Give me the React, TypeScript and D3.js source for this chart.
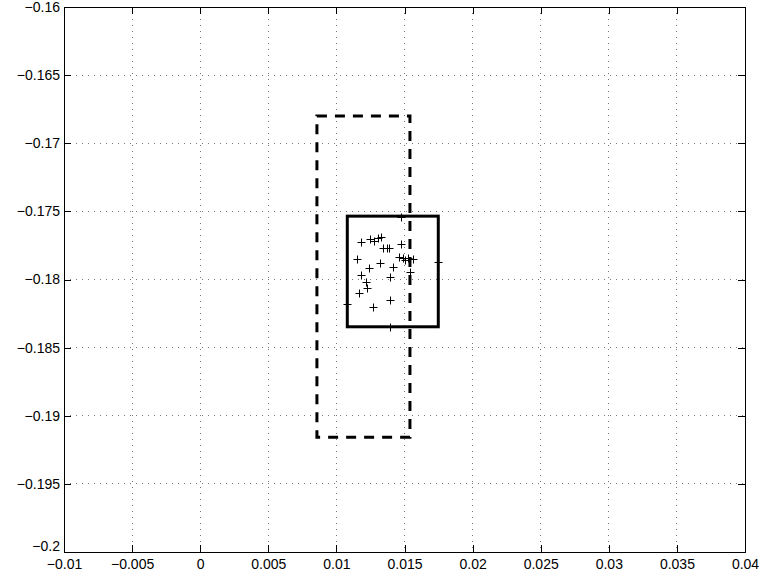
import { useEffect, useRef } from 'react'
import * as d3 from 'd3'

const xTicks = [-0.01, -0.005, 0, 0.005, 0.01, 0.015, 0.02, 0.025, 0.03, 0.035, 0.04]
const xTickLabels = ['−0.01', '−0.005', '0', '0.005', '0.01', '0.015', '0.02', '0.025', '0.03', '0.035', '0.04']
const yTicks = [-0.16, -0.165, -0.17, -0.175, -0.18, -0.185, -0.19, -0.195, -0.2]
const yTickLabels = ['−0.16', '−0.165', '−0.17', '−0.175', '−0.18', '−0.185', '−0.19', '−0.195', '−0.2']

// sample points (x, y)
const pointsX = [
  0.01472, 0.01181, 0.01247, 0.01276, 0.01308, 0.01325, 0.01344, 0.01369, 0.01388, 0.01471,
  0.01149, 0.0132, 0.01413, 0.01242, 0.01462, 0.01487, 0.01504, 0.01528, 0.01565, 0.0154,
  0.01748, 0.01394, 0.01178, 0.01217, 0.01222, 0.01168, 0.01394, 0.01076, 0.01271, 0.01394,
]
const pointsY = [
  -0.17539, -0.17725, -0.17703, -0.17717, -0.17698, -0.1769, -0.17767, -0.17767, -0.17772, -0.17736,
  -0.17852, -0.17881, -0.17906, -0.17919, -0.17837, -0.17844, -0.17857, -0.17844, -0.17852, -0.17947,
  -0.17874, -0.17978, -0.17969, -0.18016, -0.18065, -0.18101, -0.1815, -0.1818, -0.18205, -0.18346,
]

// bounding boxes: [xmin, xmax, ymin, ymax]
const outerBox = [0.00857, 0.0154, -0.19157, -0.168]
const innerBox = [0.0108, 0.01748, -0.18347, -0.17535]

export default function App() {
  const chartRef = useRef<SVGSVGElement | null>(null)

  useEffect(() => {
    const svg = d3.select(chartRef.current)
    svg.selectAll('*').remove()

    const margin = { top: 7, right: 15, bottom: 30, left: 64 }
    const width = 760 - margin.left - margin.right
    const height = 582 - margin.top - margin.bottom

    const g = svg.append('g').attr('transform', `translate(${margin.left},${margin.top})`)

    const x = d3.scaleLinear().domain([-0.01, 0.04]).range([0, width])
    const y = d3.scaleLinear().domain([-0.2, -0.16]).range([height, 0])

    // dotted grid
    g.append('g')
      .selectAll('line')
      .data(xTicks.slice(1, -1))
      .enter().append('line')
      .attr('x1', d => x(d)).attr('x2', d => x(d))
      .attr('y1', 0).attr('y2', height)
      .attr('stroke', '#777').attr('stroke-width', 1).attr('stroke-dasharray', '1,5')
      .attr('shape-rendering', 'crispEdges')
    g.append('g')
      .selectAll('line')
      .data(yTicks.slice(1, -1))
      .enter().append('line')
      .attr('y1', d => y(d)).attr('y2', d => y(d))
      .attr('x1', 0).attr('x2', width)
      .attr('stroke', '#777').attr('stroke-width', 1).attr('stroke-dasharray', '1,5')
      .attr('shape-rendering', 'crispEdges')

    const font = 'Liberation Sans, Arial, Helvetica, sans-serif'

    const xAxis = d3.axisBottom(x).tickValues(xTicks)
      .tickFormat((_, i) => xTickLabels[i])
      .tickSizeInner(-7).tickSizeOuter(0).tickPadding(7)
    const yAxis = d3.axisLeft(y).tickValues(yTicks)
      .tickFormat((_, i) => yTickLabels[i])
      .tickSizeInner(-7).tickSizeOuter(0).tickPadding(4)

    const gx = g.append('g').attr('transform', `translate(0,${height})`).call(xAxis)
    const gy = g.append('g').call(yAxis)
    // mirrored ticks on top and right
    const gxt = g.append('g').call(d3.axisTop(x).tickValues(xTicks).tickFormat(() => '').tickSizeInner(-7).tickSizeOuter(0))
    const gyr = g.append('g').attr('transform', `translate(${width},0)`)
      .call(d3.axisRight(y).tickValues(yTicks).tickFormat(() => '').tickSizeInner(-7).tickSizeOuter(0))

    ;[gx, gy, gxt, gyr].forEach(a => {
      a.select('.domain').remove()
      a.selectAll('line').attr('stroke', '#000').attr('shape-rendering', 'crispEdges')
      a.selectAll('text').attr('fill', '#000').style('font-family', font).style('font-size', '14px')
    })
    // lift the bottom y label clear of the x labels
    gy.selectAll<SVGTextElement, number>('text')
      .filter(d => d === -0.2)
      .attr('y', -6)

    g.append('rect')
      .attr('x', 0).attr('y', 0).attr('width', width).attr('height', height)
      .attr('fill', 'none').attr('stroke', '#000').attr('stroke-width', 1)
      .attr('shape-rendering', 'crispEdges')

    // dashed box
    g.append('rect')
      .attr('x', x(outerBox[0])).attr('y', y(outerBox[3]))
      .attr('width', x(outerBox[1]) - x(outerBox[0]))
      .attr('height', y(outerBox[2]) - y(outerBox[3]))
      .attr('fill', 'none').attr('stroke', '#000').attr('stroke-width', 3)
      .attr('stroke-dasharray', '10,8')

    // solid box
    g.append('rect')
      .attr('x', x(innerBox[0])).attr('y', y(innerBox[3]))
      .attr('width', x(innerBox[1]) - x(innerBox[0]))
      .attr('height', y(innerBox[2]) - y(innerBox[3]))
      .attr('fill', 'none').attr('stroke', '#000').attr('stroke-width', 3)

    // plus markers
    const s = 4
    const pts = pointsX.map((px, i) => ({ x: px, y: pointsY[i] }))
    g.append('g').selectAll('path')
      .data(pts)
      .enter().append('path')
      .attr('d', d => {
        const cx = Math.round(x(d.x)) + 0.5
        const cy = Math.round(y(d.y)) + 0.5
        return `M${cx - s},${cy}H${cx + s}M${cx},${cy - s}V${cy + s}`
      })
      .attr('stroke', '#000').attr('stroke-width', 1).attr('fill', 'none')
  }, [])

  return (
    <svg
      ref={chartRef}
      width={760}
      height={582}
      style={{ position: 'absolute', left: 0, top: 0, background: '#fff' }}
    />
  )
}
